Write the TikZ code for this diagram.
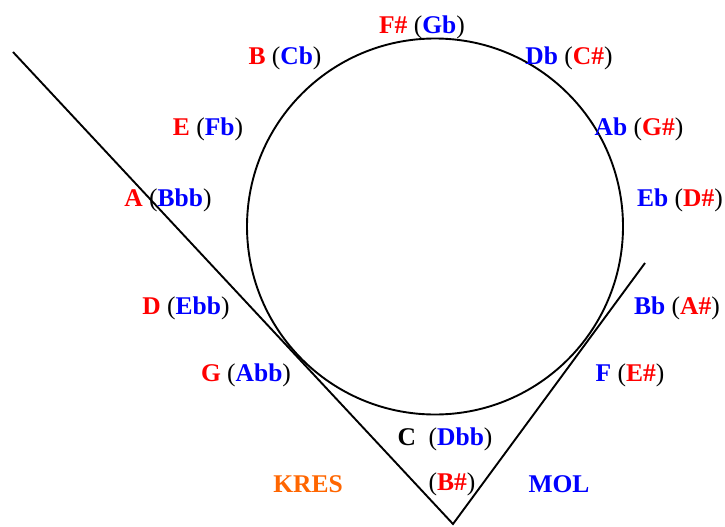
\documentclass[tikz,border=0pt]{standalone}
\usepackage{fontspec}
\setmainfont{Liberation Serif}
\definecolor{nred}{RGB}{255,0,0}
\definecolor{nblue}{RGB}{0,0,255}
\definecolor{norange}{RGB}{255,102,0}
\newcommand{\R}[1]{\textcolor{nred}{#1}}
\newcommand{\B}[1]{\textcolor{nblue}{#1}}
\newcommand{\LP}{{\mdseries(}}
\newcommand{\RP}{{\mdseries)}}
\begin{document}
\begin{tikzpicture}[x=1pt,y=-1pt,
  lbl/.style={font=\fontsize{25.5}{30}\selectfont\bfseries, inner sep=0pt, anchor=center, yshift=-2pt},
  ln/.style={line width=1.9pt, draw=black}]
\useasboundingbox[fill=white] (0,0) rectangle (725,527);
\draw[ln] (435,226.5) circle[radius=188];
\coordinate (l1) at (13,52);
\coordinate (bot) at (453,524);
\coordinate (r1) at (645,263);
\draw[ln] (l1) -- (bot) -- (r1);
\node[lbl] (fs) at (422,25) {\R{F\#} \LP\B{Gb}\RP};
\node[lbl] (b) at (285,56) {\R{B} \LP\B{Cb}\RP};
\node[lbl] (db) at (569,56) {\B{Db} \LP\R{C\#}\RP};
\node[lbl] (e) at (208,127) {\R{E} \LP\B{Fb}\RP};
\node[lbl] (ab) at (639,127) {\B{Ab} \LP\R{G\#}\RP};
\node[lbl] (a) at (168,198) {\R{A} \LP\B{Bbb}\RP};
\node[lbl] (eb) at (680,198) {\B{Eb} \LP\R{D\#}\RP};
\node[lbl] (d) at (186,306) {\R{D} \LP\B{Ebb}\RP};
\node[lbl] (bb) at (677,306) {\B{Bb} \LP\R{A\#}\RP};
\node[lbl] (g) at (246,373) {\R{G} \LP\B{Abb}\RP};
\node[lbl] (f) at (630,373) {\B{F} \LP\R{E\#}\RP};
\node[lbl] (c) at (445,437) {C\ \ \LP\B{Dbb}\RP};
\node[lbl] (bs) at (452,482) {\LP\R{B\#}\RP};
\node[lbl,text=norange] (kres) at (308,482) {KRES};
\node[lbl,text=nblue] (mol) at (559,482) {MOL};
\end{tikzpicture}
\end{document}
